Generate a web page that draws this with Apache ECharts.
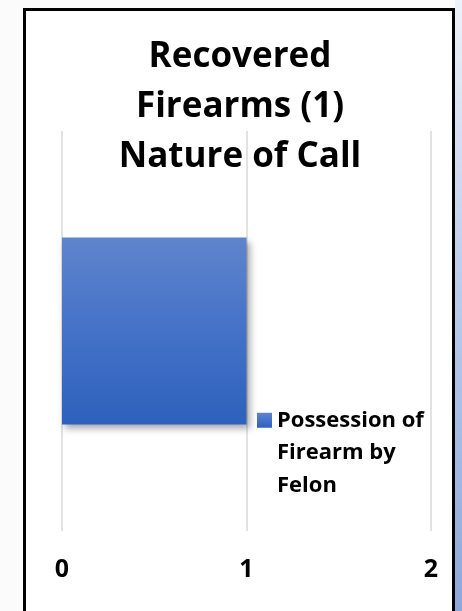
<!DOCTYPE html>
<html>
<head>
<meta charset="utf-8">
<script src="https://cdn.jsdelivr.net/npm/echarts@6/dist/echarts.min.js"></script>
<style>
  html, body { margin: 0; padding: 0; width: 462px; height: 611px; overflow: hidden; background: #fbfbfb; }
  #side { position: absolute; left: 455px; top: 0; width: 7px; height: 611px;
          background: linear-gradient(to bottom, #eef2f9 0%, #c3d1ec 40%, #8ea7d9 100%); }
  #frame { position: absolute; left: 23px; top: 8px; width: 426px; height: 620px;
           border: 3px solid #000; background: #fff; }
  #chart { position: absolute; left: 0; top: 0; width: 462px; height: 611px; }
</style>
</head>
<body>
<div id="side"></div>
<div id="frame"></div>
<div id="chart"></div>
<script>
const titleLines = ['Recovered', 'Firearms (1)', 'Nature of Call'];
const categories = ['Nature of Call'];
const seriesName = 'Possession of\nFirearm by\nFelon';
const seriesValues = [1];
const axisMin = 0;
const axisMax = 2;
const axisInterval = 1;

const FONT = '"Open Sans", Lato, sans-serif';
const chart = echarts.init(document.getElementById('chart'), null, { renderer: 'canvas' });
chart.setOption({
  backgroundColor: 'transparent',
  animation: false,
  title: {
    text: titleLines.join('\n'),
    left: 240,
    top: 32,
    textAlign: 'center',
    padding: 0,
    textStyle: { fontFamily: FONT, fontWeight: 'bold', fontSize: 35, lineHeight: 50, color: '#000' }
  },
  legend: {
    left: 257,
    top: 339,
    padding: 0,
    icon: 'rect',
    itemWidth: 15,
    itemHeight: 15,
    itemStyle: { shadowBlur: 0, shadowOffsetX: 0, shadowOffsetY: 0 },
    formatter: function (name) { return '\n\n' + name; },
    textStyle: { fontFamily: FONT, fontWeight: 'bold', fontSize: 22, lineHeight: 32.5, color: '#000' },
    data: [seriesName]
  },
  grid: { left: 62, right: 31, top: 131, bottom: 80, containLabel: false },
  xAxis: {
    type: 'value',
    min: axisMin, max: axisMax, interval: axisInterval,
    axisLine: { show: false },
    axisTick: { show: false },
    splitLine: { show: true, lineStyle: { color: '#d9d9d9', width: 1.5 } },
    axisLabel: { margin: 26, fontFamily: FONT, fontWeight: 'bold', fontSize: 25, color: '#000' }
  },
  yAxis: {
    type: 'category',
    data: categories,
    show: false
  },
  series: [{
    name: seriesName,
    type: 'bar',
    data: seriesValues,
    barWidth: 187,
    itemStyle: {
      color: new echarts.graphic.LinearGradient(0, 0, 0, 1, [
        { offset: 0, color: '#5f84cc' },
        { offset: 0.5, color: '#4472c8' },
        { offset: 1, color: '#2e61bc' }
      ]),
      shadowBlur: 7,
      shadowOffsetX: 3,
      shadowOffsetY: 4,
      shadowColor: 'rgba(0,0,0,0.35)'
    }
  }]
});
</script>
</body>
</html>
